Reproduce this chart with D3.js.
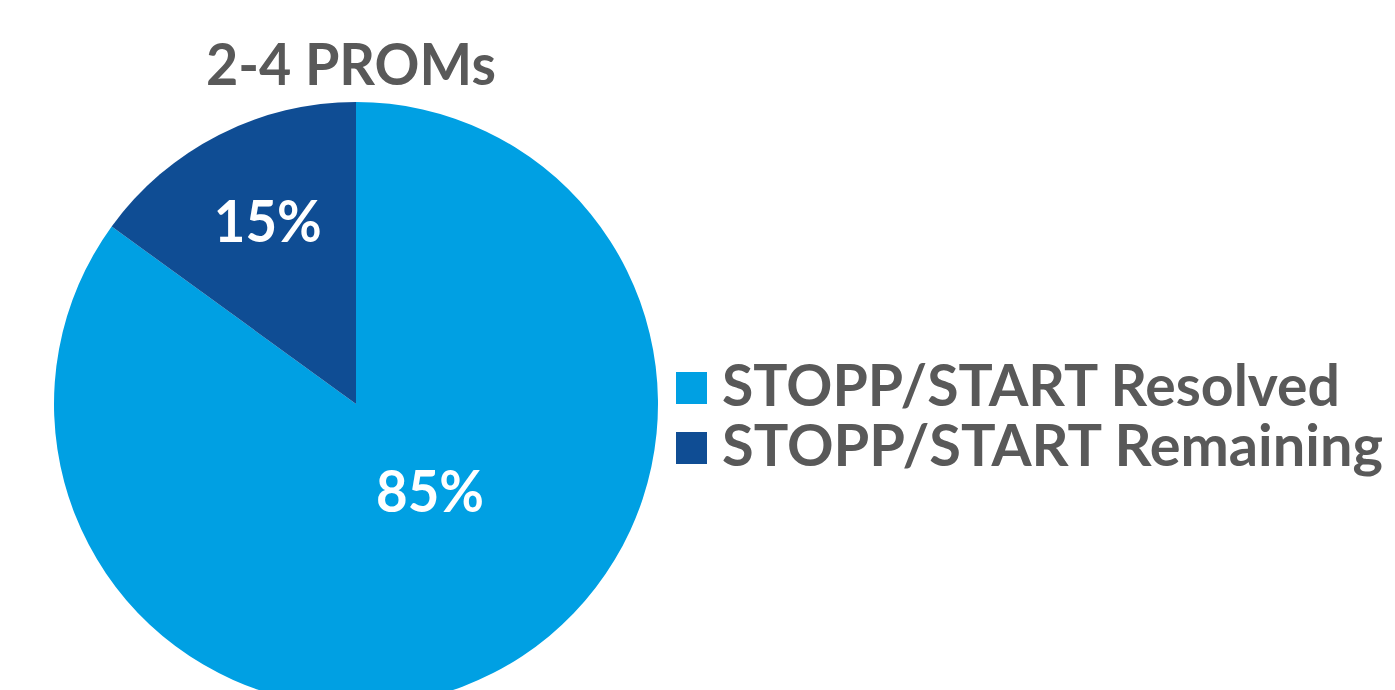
<!DOCTYPE html>
<html>
<head>
<meta charset="utf-8">
<script src="https://cdn.jsdelivr.net/npm/d3@7"></script>
<style>
  body { margin: 0; background: #fff; }
  svg text { font-family: Lato, "Open Sans", sans-serif; font-weight: bold; }
</style>
</head>
<body>
<svg id="chart" width="1395" height="690"></svg>
<script>
// data
const title = "2-4 PROMs"
const categories = ["STOPP/START Resolved", "STOPP/START Remaining"]
const values = [85, 15]
const colors = ["#00A0E3", "#0F4D94"]

const svg = d3.select('#chart')
const cx = 356, cy = 404, radius = 302
const grey = "#595959"

const pie = d3.pie().sort(null).value(d => d.value)
const slices = pie(categories.map((c, i) => ({ name: c, value: values[i] })))

const arc = d3.arc().innerRadius(0).outerRadius(radius)

const g = svg.append('g').attr('transform', `translate(${cx},${cy})`)

// slices
g.selectAll('path.slice')
  .data(slices)
  .enter()
  .append('path')
  .classed('slice', true)
  .attr('d', arc)
  .attr('fill', (d, i) => colors[i])

// labels (excel best-fit style placement)
const labelRad = [0.38, 0.67]
const angleShift = [-0.23, 0.02]
g.selectAll('text.lbl')
  .data(slices)
  .enter()
  .append('text')
  .classed('lbl', true)
  .attr('x', (d, i) => Math.sin((d.startAngle + d.endAngle) / 2 + angleShift[i]) * radius * labelRad[i])
  .attr('y', (d, i) => -Math.cos((d.startAngle + d.endAngle) / 2 + angleShift[i]) * radius * labelRad[i])
  .attr('dy', '0.36em')
  .attr('text-anchor', 'middle')
  .attr('fill', '#fff')
  .style('font-size', '57px')
  .text(d => d3.format('.0%')(d.value / d3.sum(values)))
  .each(function () {
    d3.select(this).attr('textLength', 108).attr('lengthAdjust', 'spacingAndGlyphs')
  })

// title
svg.append('text')
  .attr('x', 351)
  .attr('y', 85)
  .attr('text-anchor', 'middle')
  .attr('fill', grey)
  .style('font-size', '57px')
  .attr('textLength', 290)
  .attr('lengthAdjust', 'spacingAndGlyphs')
  .text(title)

// legend
const legendWidths = [618, 661]
const leg = svg.append('g').attr('transform', 'translate(676,372)')
const rows = leg.selectAll('g.row')
  .data(categories)
  .enter()
  .append('g')
  .classed('row', true)
  .attr('transform', (d, i) => `translate(0,${i * 60})`)

rows.append('rect')
  .attr('width', 31)
  .attr('height', 32)
  .attr('fill', (d, i) => colors[i])

rows.append('text')
  .attr('x', 46)
  .attr('y', 34)
  .attr('fill', grey)
  .style('font-size', '57px')
  .attr('textLength', (d, i) => legendWidths[i])
  .attr('lengthAdjust', 'spacingAndGlyphs')
  .text(d => d)
</script>
</body>
</html>
